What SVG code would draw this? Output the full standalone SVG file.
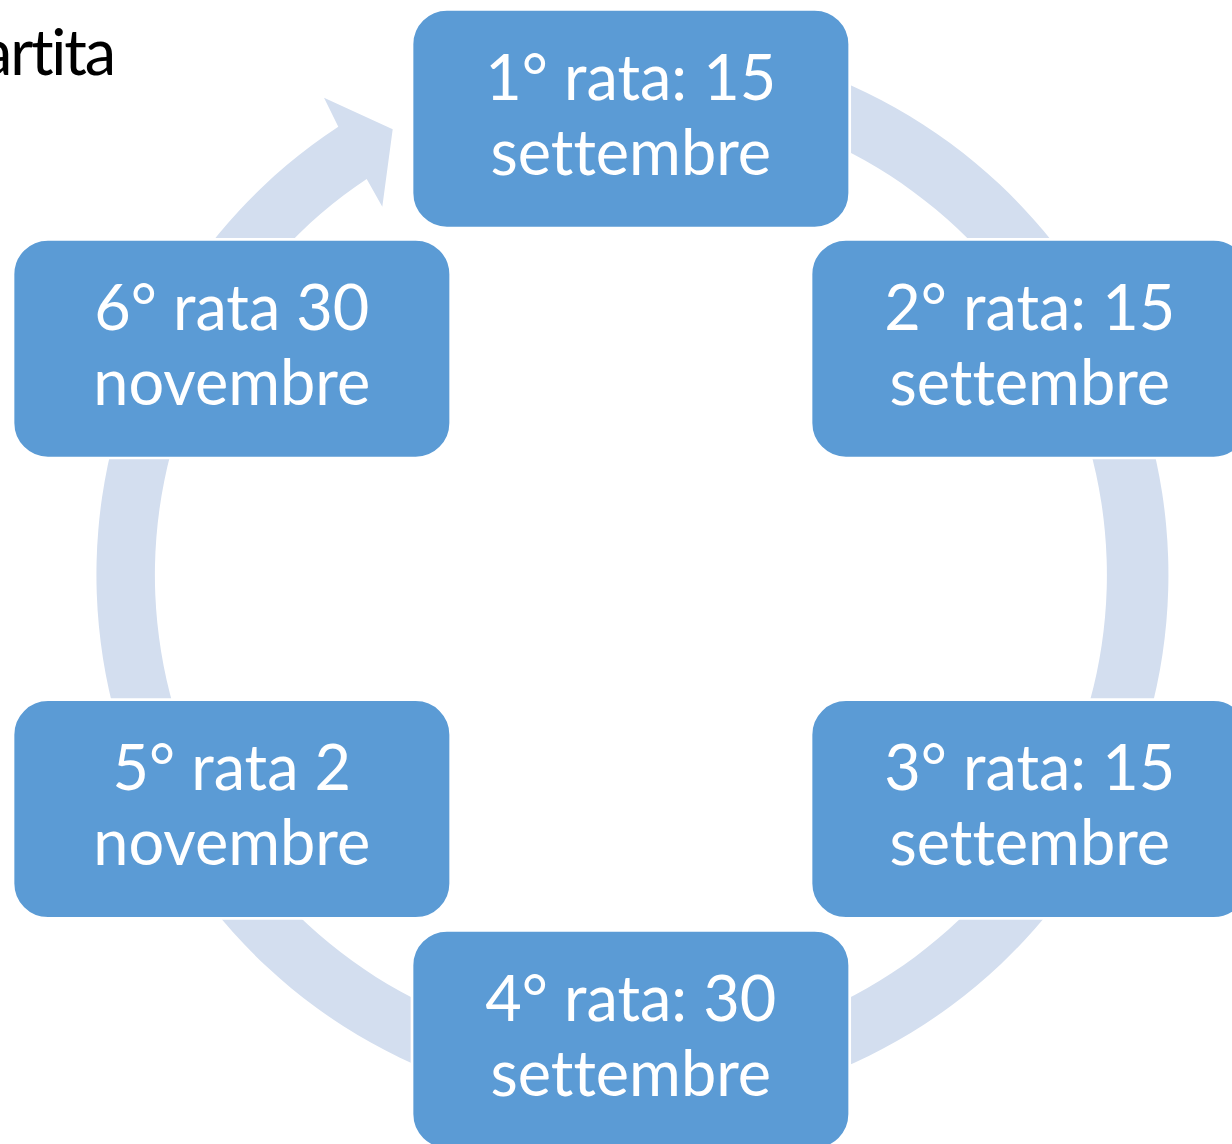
<svg xmlns="http://www.w3.org/2000/svg" width="1232" height="1144" viewBox="0 0 1232 1144">
<style>
.box{fill:#5B9BD5;stroke:#FFFFFF;stroke-width:2.7}
.lbl{font-family:Lato,"Liberation Sans",sans-serif;font-size:63px;fill:#FFFFFF;text-anchor:middle;font-variant-ligatures:none;font-feature-settings:"liga" 0}
.title{font-family:Lato,"Liberation Sans",sans-serif;font-size:63px;fill:#000000;text-anchor:start;font-variant-ligatures:none;font-feature-settings:"liga" 0}
.ring{fill:#D3DEEF}
</style>
<rect width="1232" height="1144" fill="#FFFFFF"/>
<text class="title" x="-19" y="75" textLength="135" lengthAdjust="spacing">artita</text>
<g id="connectors">
<path class="ring" d="M583.8,41 A536,536 0 1 1 338.3,126.7 L324,97.7 L392.7,129.3 L382.3,206.7 L366.7,179 A476,476 0 1 0 589,100.8 Z"/>
</g>
<g id="node1">
<rect class="box" x="412" y="9.3" width="437.7" height="218.7" rx="35"/>
<text class="lbl" x="630.8" y="100">1° rata: 15</text>
<text class="lbl" x="630.8" y="175">settembre</text>
</g>
<g id="node2">
<rect class="box" x="811" y="239.3" width="437.7" height="218.7" rx="35"/>
<text class="lbl" x="1029.8" y="330">2° rata: 15</text>
<text class="lbl" x="1029.8" y="405">settembre</text>
</g>
<g id="node3">
<rect class="box" x="811" y="699.7" width="437.7" height="218.7" rx="35"/>
<text class="lbl" x="1029.8" y="790.3">3° rata: 15</text>
<text class="lbl" x="1029.8" y="865.3">settembre</text>
</g>
<g id="node4">
<rect class="box" x="412" y="930.4" width="437.7" height="218.7" rx="35"/>
<text class="lbl" x="630.8" y="1021">4° rata: 30</text>
<text class="lbl" x="630.8" y="1096">settembre</text>
</g>
<g id="node5">
<rect class="box" x="13" y="699.7" width="437.7" height="218.7" rx="35"/>
<text class="lbl" x="231.8" y="790.3">5° rata 2</text>
<text class="lbl" x="231.8" y="865.3">novembre</text>
</g>
<g id="node6">
<rect class="box" x="13" y="239.3" width="437.7" height="218.7" rx="35"/>
<text class="lbl" x="231.8" y="330">6° rata 30</text>
<text class="lbl" x="231.8" y="405">novembre</text>
</g>
</svg>
